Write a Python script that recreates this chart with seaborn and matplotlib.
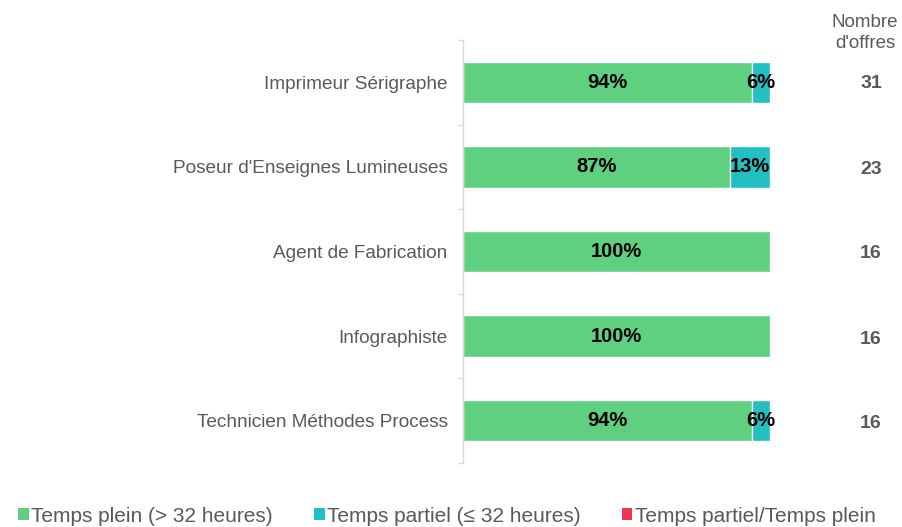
import matplotlib
matplotlib.use("Agg")
import matplotlib.pyplot as plt
import seaborn as sns
import pandas as pd
from matplotlib.patches import Patch

categories = ["Imprimeur Sérigraphe", "Poseur d'Enseignes Lumineuses", "Agent de Fabrication",
              "Infographiste", "Technicien Méthodes Process"]
plein = [94, 87, 100, 100, 94]
partiel = [6, 13, 0, 0, 6]
partiel_plein = [0, 0, 0, 0, 0]
nb_offres = [31, 23, 16, 16, 16]
series_names = ["Temps plein (> 32 heures)", "Temps partiel (≤ 32 heures)", "Temps partiel/Temps plein"]
colors = ["#5FD07F", "#22C0C0", "#E8384F"]

sns.set_theme(style="white")
plt.rcParams['font.family'] = ['Liberation Sans', 'DejaVu Sans']

df = pd.DataFrame({"cat": categories, "plein": plein, "partiel": partiel, "pp": partiel_plein})
df["c2"] = df["plein"] + df["partiel"]
df["c3"] = df["c2"] + df["pp"]

fig = plt.figure(figsize=(9.02, 5.27), dpi=100)
ax = fig.add_axes([463/902, 1-463/527, (771-463)/902, (463-40)/527])

sns.barplot(data=df, y="cat", x="c3", color=colors[2], orient="h", width=0.49, ax=ax, saturation=1)
sns.barplot(data=df, y="cat", x="c2", color=colors[1], orient="h", width=0.49, ax=ax, saturation=1)
sns.barplot(data=df, y="cat", x="plein", color=colors[0], orient="h", width=0.49, ax=ax, saturation=1)

ax.set_xlim(0, 100.3)
ax.set_ylim(4.5, -0.5)
ax.set_xlabel("")
ax.set_ylabel("")
ax.set_xticks([])
ax.set_yticks(range(len(categories)))
ax.set_yticklabels(categories, fontsize=13.7, color="#595959")
ax.tick_params(axis="y", length=0, pad=11)
for s in ["top", "right", "bottom"]:
    ax.spines[s].set_visible(False)
ax.spines["left"].set_color("#D9D9D9")
ax.spines["left"].set_linewidth(1)
for b in [i - 0.5 for i in range(len(categories) + 1)]:
    ax.plot([-1.6, 0], [b, b], color="#D9D9D9", lw=1, clip_on=False, solid_capstyle="butt")

for i in range(len(categories)):
    if plein[i] > 0:
        ax.text(plein[i] / 2, i, f"{plein[i]}%", ha="center", va="center",
                fontsize=14.5, fontweight="bold", color="black")
    if partiel[i] > 0:
        ax.text(plein[i] + partiel[i] / 2, i, f"{partiel[i]}%", ha="center", va="center",
                fontsize=14.5, fontweight="bold", color="black")
    fig.text(871/902, 1 - (84 + i * 85) / 527, str(nb_offres[i]), ha="center", va="center",
             fontsize=14, fontweight="bold", color="#595959")

fig.text(865/902, 1 - 33/527, "Nombre\nd'offres", ha="center", va="center",
         fontsize=13.5, color="#595959", linespacing=1.3)

handles = [Patch(facecolor=c, edgecolor="none") for c in colors]
fig.legend(handles, series_names, loc="center", bbox_to_anchor=(447/902, 1 - 516/527), ncol=3,
           frameon=False, fontsize=15, handlelength=0.5, handleheight=0.5, handletextpad=0.12,
           columnspacing=1.98, labelcolor="#595959")

fig.savefig("out.png", dpi=100)
